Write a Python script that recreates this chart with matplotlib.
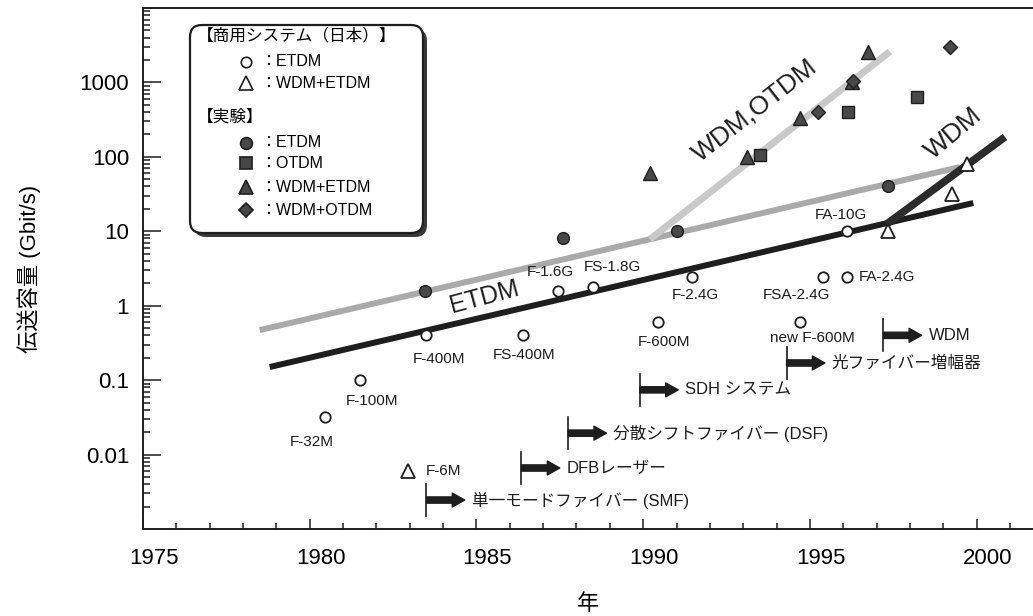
"""Growth of optical transmission capacity (commercial systems vs. experiments)."""

import matplotlib

matplotlib.use("Agg")
import matplotlib.pyplot as plt
from matplotlib.lines import Line2D
from matplotlib.patches import FancyBboxPatch
from matplotlib.ticker import FixedLocator, LogLocator, NullFormatter, FuncFormatter
from matplotlib.transforms import ScaledTranslation

# commercial systems (Japan), ETDM, open circles
COMM_ETDM_YEAR = [1980.45, 1981.5, 1983.5, 1986.4, 1987.45, 1988.5, 1990.45, 1991.45, 1994.7, 1995.4, 1996.1, 1996.1]
COMM_ETDM_RATE = [0.032, 0.1, 0.4, 0.4, 1.6, 1.8, 0.6, 2.4, 0.6, 2.4, 2.4, 10]
COMM_ETDM_NAME = ["F-32M", "F-100M", "F-400M", "FS-400M", "F-1.6G", "FS-1.8G", "F-600M", "F-2.4G",
                  "new F-600M", "FSA-2.4G", "FA-2.4G", "FA-10G"]
# commercial WDM+ETDM, open triangles
COMM_WDM_YEAR = [1982.95, 1997.35, 1999.25, 1999.7]
COMM_WDM_RATE = [0.006, 10, 32, 80]
COMM_WDM_NAME = ["F-6M", "", "", ""]

# experiments
EXP_ETDM_YEAR = [1983.45, 1987.6, 1991.0, 1997.35]
EXP_ETDM_RATE = [1.6, 8, 10, 40]
EXP_OTDM_YEAR = [1993.5, 1996.15, 1998.2]
EXP_OTDM_RATE = [106, 400, 640]
EXP_WDM_ETDM_YEAR = [1990.2, 1993.1, 1994.7, 1996.25, 1996.75]
EXP_WDM_ETDM_RATE = [60, 100, 330, 1000, 2600]
EXP_WDM_OTDM_YEAR = [1995.25, 1996.3, 1999.2]
EXP_WDM_OTDM_RATE = [400, 1050, 3000]

# trend lines
EXP_TREND_YEAR = [1978.5, 1999.5]
EXP_TREND_RATE = [0.47, 73]
BRANCH_YEAR = [1990.2, 1997.4]
BRANCH_RATE = [7.8, 2600]
COMM_TREND_YEAR = [1978.8, 1999.9]
COMM_TREND_RATE = [0.15, 24]
WDM_TREND_YEAR = [1997.3, 2000.85]
WDM_TREND_RATE = [12.5, 185]

# technology milestones
MILESTONE_YEAR = [1983.5, 1986.35, 1987.75, 1989.9, 1994.3, 1997.2]
MILESTONE_LABEL = ["単一モードファイバー (SMF)", "DFBレーザー", "分散シフトファイバー (DSF)",
                   "SDH システム", "光ファイバー増幅器", "WDM"]
MILESTONE_LEVEL = [0.00245, 0.0066, 0.0194, 0.074, 0.17, 0.40]

X_TICKS = [1975, 1980, 1985, 1990, 1995, 2000]
Y_TICKS = [0.01, 0.1, 1, 10, 100, 1000]

# label offsets (points) for commercial markers
COMM_ETDM_OFFSET = [(-9, -18), (9, -15), (9, -17), (1, -14), (-6, 13), (14, 14), (4, -14), (3, -13),
                    (9, -11), (-19, -13), (9, 0), (-4, 12)]

INK = "#1e1e1e"
FILL = "#484848"


def main() -> None:
    plt.rcParams["font.family"] = ["Liberation Sans", "Noto Sans CJK JP"]
    fig = plt.figure(figsize=(10.33, 6.16), dpi=100)
    ax = fig.add_axes([143 / 1033, 87 / 616, 890 / 1033, 521 / 616])
    ax.set_yscale("log")
    ax.set_xlim(1975, 2001.69)
    ax.set_ylim(1e-3, 1e4)

    line_kw = dict(solid_capstyle="butt")
    ax.plot(EXP_TREND_YEAR, EXP_TREND_RATE, color="#aaaaaa", lw=4.3, zorder=1, **line_kw)
    ax.plot(BRANCH_YEAR, BRANCH_RATE, color="#c9c9c9", lw=5, zorder=1, **line_kw)
    ax.plot(COMM_TREND_YEAR, COMM_TREND_RATE, color=INK, lw=4.3, zorder=2, **line_kw)
    ax.plot(WDM_TREND_YEAR, WDM_TREND_RATE, color="#2c2c2c", lw=5.5, zorder=2, **line_kw)

    ax.plot(COMM_ETDM_YEAR, COMM_ETDM_RATE, ls="none", marker="o", ms=7.5, mfc="white", mec=INK, mew=1.3, zorder=4)
    ax.plot(COMM_WDM_YEAR, COMM_WDM_RATE, ls="none", marker="^", ms=10, mfc="white", mec=INK, mew=1.3, zorder=4)
    ax.plot(EXP_ETDM_YEAR, EXP_ETDM_RATE, ls="none", marker="o", ms=8.5, mfc=FILL, mec=INK, mew=1, zorder=4)
    ax.plot(EXP_OTDM_YEAR, EXP_OTDM_RATE, ls="none", marker="s", ms=8, mfc=FILL, mec=INK, mew=1, zorder=4)
    ax.plot(EXP_WDM_ETDM_YEAR, EXP_WDM_ETDM_RATE, ls="none", marker="^", ms=10.5, mfc=FILL, mec=INK, mew=1, zorder=4)
    ax.plot(EXP_WDM_OTDM_YEAR, EXP_WDM_OTDM_RATE, ls="none", marker="D", ms=7, mfc=FILL, mec=INK, mew=1, zorder=4)

    for yr, rate, name, off in zip(COMM_ETDM_YEAR, COMM_ETDM_RATE, COMM_ETDM_NAME, COMM_ETDM_OFFSET):
        ha = "left" if off[1] == 0 else "center"
        ax.annotate(name, (yr, rate), xytext=off, textcoords="offset points",
                    ha=ha, va="center", fontsize=11, color=INK)
    for yr, rate, name in zip(COMM_WDM_YEAR, COMM_WDM_RATE, COMM_WDM_NAME):
        if name:
            ax.annotate(name, (yr, rate), xytext=(13, 0), textcoords="offset points",
                        ha="left", va="center", fontsize=11, color=INK)

    for yr, lvl, label in zip(MILESTONE_YEAR, MILESTONE_LEVEL, MILESTONE_LABEL):
        ax.plot([yr, yr], [lvl / 1.64, lvl * 1.64], color=INK, lw=1.2, zorder=3)
        ax.annotate("", xy=(yr + 1.15, lvl), xytext=(yr, lvl),
                    arrowprops=dict(arrowstyle="simple,head_length=0.9,head_width=1.0,tail_width=0.45",
                                    fc=INK, ec=INK, shrinkA=0, shrinkB=0))
        ax.annotate(label, (yr + 1.15, lvl), xytext=(5, 0), textcoords="offset points",
                    ha="left", va="center", fontsize=12, color=INK)

    big = dict(ha="center", va="center", rotation_mode="anchor", color=INK)
    ax.text(1985.25, 1.31, "ETDM", rotation=15, fontsize=18, **big)
    ax.text(1993.35, 427, "WDM,OTDM", rotation=38, fontsize=19, **big)
    ax.text(1999.3, 205, "WDM", rotation=40, fontsize=19, **big)

    # axes styling
    ax.spines["right"].set_visible(False)
    for side in ("left", "bottom", "top"):
        ax.spines[side].set_linewidth(1.4)
        ax.spines[side].set_color(INK)
    ax.xaxis.set_major_locator(FixedLocator(X_TICKS))
    ax.xaxis.set_minor_locator(FixedLocator(range(1975, 2002)))
    ax.yaxis.set_major_locator(FixedLocator(Y_TICKS))
    ax.yaxis.set_major_formatter(FuncFormatter(lambda v, _: f"{v:g}"))
    ax.yaxis.set_minor_locator(LogLocator(base=10, subs=range(2, 10), numticks=20))
    ax.yaxis.set_minor_formatter(NullFormatter())
    ax.tick_params(axis="both", which="both", direction="in", color=INK, width=1.1,
                   top=False, right=False, labelsize=16)
    ax.tick_params(axis="x", which="major", length=7, pad=14)
    ax.tick_params(axis="x", which="minor", length=4)
    ax.tick_params(axis="y", which="major", length=13, pad=10)
    ax.tick_params(axis="y", which="minor", length=5)
    # the printed year labels sit slightly right of their ticks
    shift = ScaledTranslation(0.11, 0, fig.dpi_scale_trans)
    for lab in ax.get_xticklabels():
        lab.set_transform(lab.get_transform() + shift)
    ax.set_xlabel("年", fontsize=16, labelpad=18)
    ax.set_ylabel("伝送容量 (Gbit/s)", fontsize=16, labelpad=28)

    # hand-made legend box with drop shadow
    inch = fig.dpi_scale_trans
    shadow = FancyBboxPatch((1.94, 3.79), 2.33, 2.08, boxstyle="round,pad=0,rounding_size=0.12",
                            transform=inch, fc="#3a3a3a", ec="none", zorder=5)
    box = FancyBboxPatch((1.90, 3.83), 2.33, 2.08, boxstyle="round,pad=0,rounding_size=0.12",
                         transform=inch, fc="white", ec=INK, lw=1.6, zorder=6)
    fig.add_artist(shadow)
    fig.add_artist(box)
    fig.text(1.97, 5.81, "【商用システム（日本）】", transform=inch, fontsize=12, va="center", zorder=7)
    fig.text(1.97, 4.99, "【実験】", transform=inch, fontsize=12, va="center", zorder=7)
    entries = [
        (5.54, "o", 7.5, "white", "：ETDM"),
        (5.33, "^", 10, "white", "：WDM+ETDM"),
        (4.73, "o", 8.5, FILL, "：ETDM"),
        (4.53, "s", 8, FILL, "：OTDM"),
        (4.29, "^", 10.5, FILL, "：WDM+ETDM"),
        (4.06, "D", 7, FILL, "：WDM+OTDM"),
    ]
    for y, mk, ms, fc, txt in entries:
        fig.add_artist(Line2D([2.46], [y], transform=inch, ls="none", marker=mk, ms=ms,
                              mfc=fc, mec=INK, mew=1.2, zorder=7))
        fig.text(2.60, y, txt, transform=inch, fontsize=11.5, va="center", zorder=7)

    fig.savefig("out.png", dpi=100)


if __name__ == "__main__":
    main()
